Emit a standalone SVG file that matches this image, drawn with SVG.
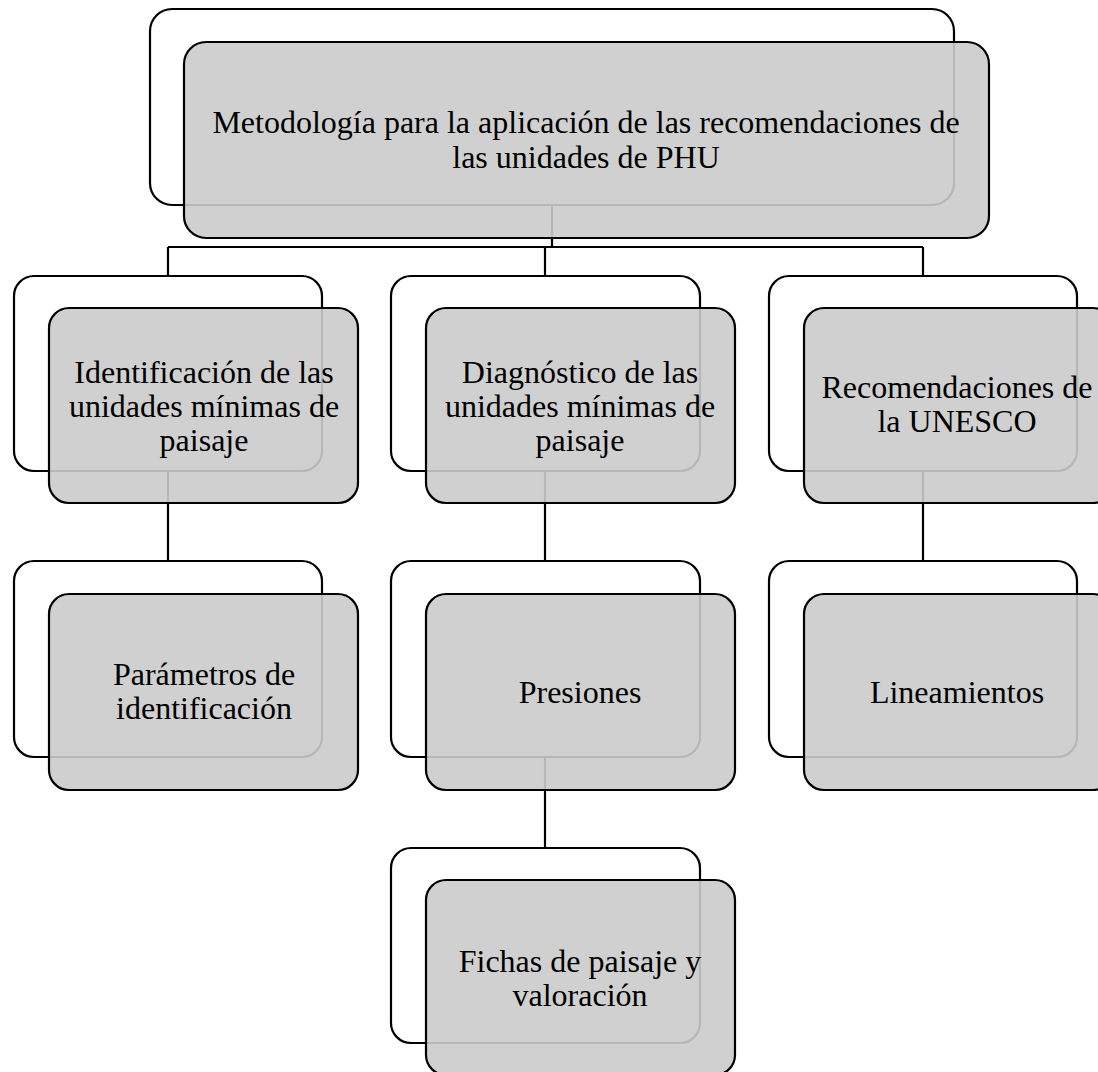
<svg xmlns="http://www.w3.org/2000/svg" width="1098" height="1072" viewBox="0 0 1098 1072">
<style>
.back{fill:#ffffff;stroke:#000;stroke-width:2.2}
.front{fill:#cbcbcb;fill-opacity:0.9;stroke:#000;stroke-width:2.2}
.conn{fill:none;stroke:#000;stroke-width:2.2}
text{font-family:"Liberation Serif","Times New Roman",serif;font-size:32px;fill:#000;text-anchor:middle}
</style>
<rect width="1098" height="1072" fill="#fff"/>
<g id="connectors">
<path class="conn" d="M552 205 V247 M168 247 H923 M168 247 V276 M545 247 V276 M923 247 V276"/>
<path class="conn" d="M168 470 V561 M545 470 V561 M923 470 V561"/>
<path class="conn" d="M545 756 V848"/>
</g>
<g id="n-root">
<rect class="back" x="150" y="9" width="804" height="196" rx="22"/>
<rect class="front" x="184" y="42" width="805" height="196" rx="22"/>
<text x="586" y="133">Metodología para la aplicación de las recomendaciones de</text>
<text x="586" y="168">las unidades de PHU</text>
</g>
<g id="n-ident">
<rect class="back" x="14" y="276" width="308" height="195" rx="20"/>
<rect class="front" x="49" y="308" width="309" height="195" rx="20"/>
<text x="204" y="383">Identificación de las</text>
<text x="204" y="417">unidades mínimas de</text>
<text x="204" y="451">paisaje</text>
</g>
<g id="n-diag">
<rect class="back" x="391" y="276" width="309" height="195" rx="20"/>
<rect class="front" x="426" y="308" width="309" height="195" rx="20"/>
<text x="580" y="383">Diagnóstico de las</text>
<text x="580" y="417">unidades mínimas de</text>
<text x="580" y="451">paisaje</text>
</g>
<g id="n-unesco">
<rect class="back" x="769" y="276" width="308" height="195" rx="20"/>
<rect class="front" x="804" y="308" width="309" height="195" rx="20"/>
<text x="957" y="398">Recomendaciones de</text>
<text x="957" y="432">la UNESCO</text>
</g>
<g id="n-param">
<rect class="back" x="14" y="561" width="308" height="196" rx="20"/>
<rect class="front" x="49" y="594" width="309" height="196" rx="20"/>
<text x="204" y="685">Parámetros de</text>
<text x="204" y="719">identificación</text>
</g>
<g id="n-presiones">
<rect class="back" x="391" y="561" width="309" height="196" rx="20"/>
<rect class="front" x="426" y="594" width="309" height="196" rx="20"/>
<text x="580" y="703">Presiones</text>
</g>
<g id="n-lineamientos">
<rect class="back" x="769" y="561" width="308" height="196" rx="20"/>
<rect class="front" x="804" y="594" width="309" height="196" rx="20"/>
<text x="957" y="703">Lineamientos</text>
</g>
<g id="n-fichas">
<rect class="back" x="391" y="848" width="309" height="195" rx="20"/>
<rect class="front" x="426" y="880" width="309" height="195" rx="20"/>
<text x="580" y="972">Fichas de paisaje y</text>
<text x="580" y="1006">valoración</text>
</g>
</svg>
